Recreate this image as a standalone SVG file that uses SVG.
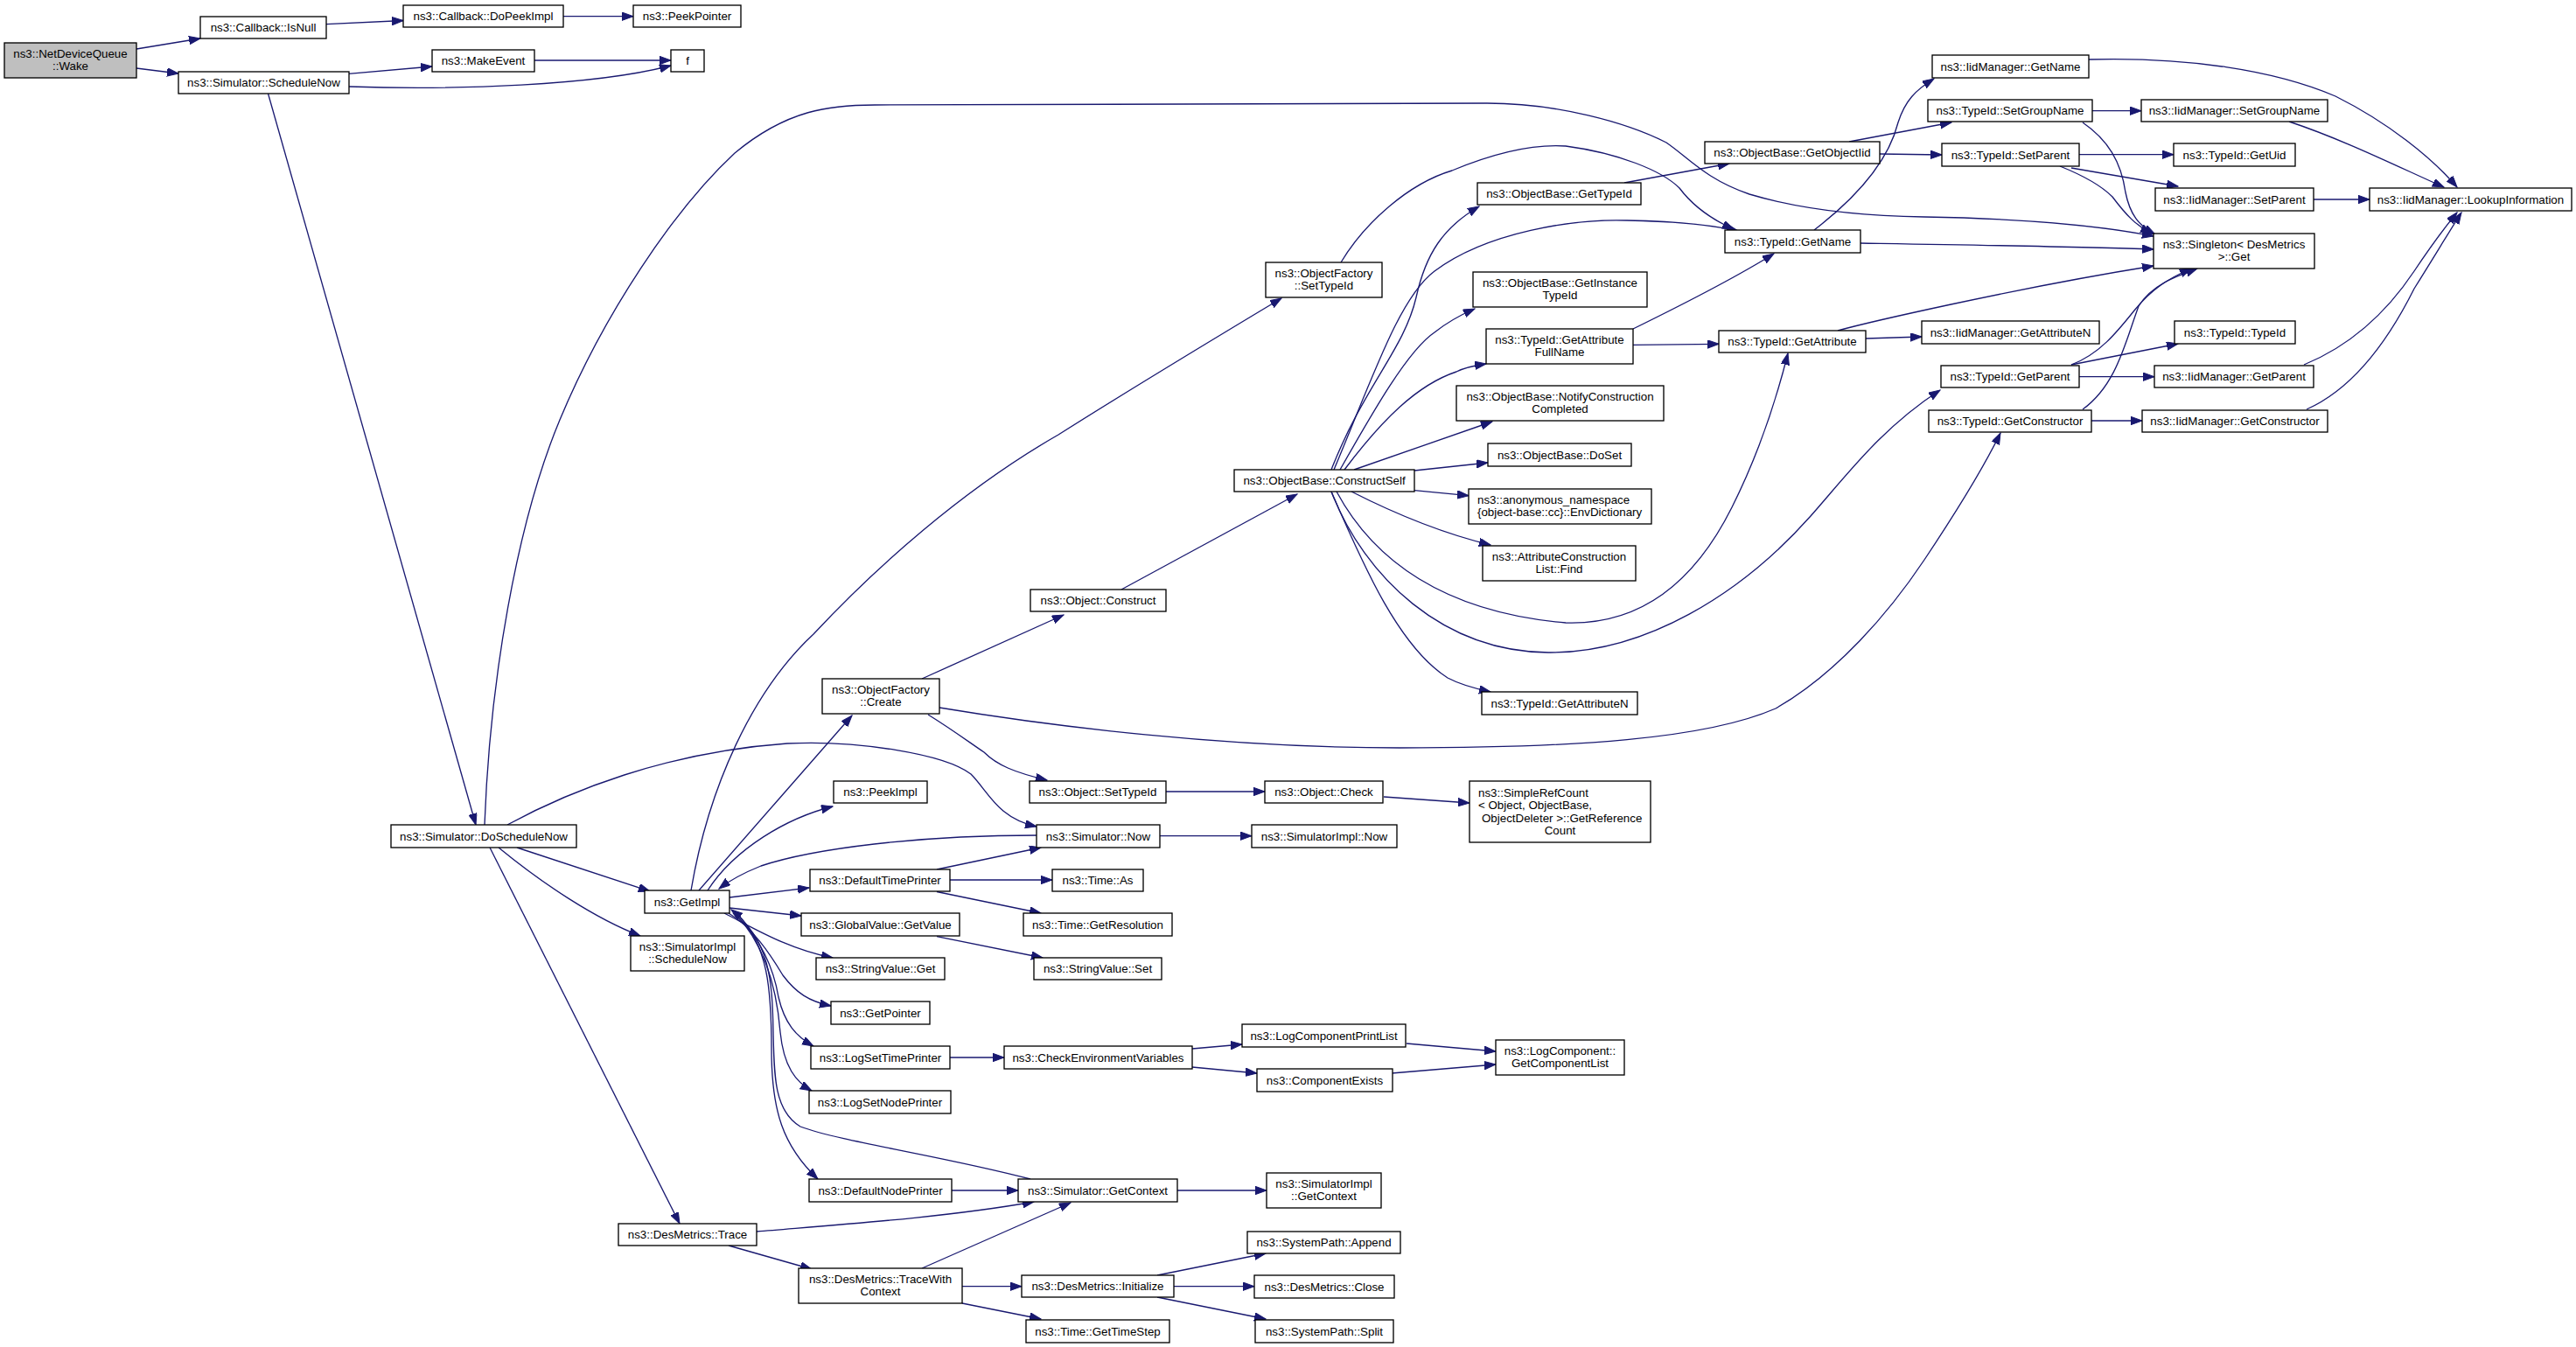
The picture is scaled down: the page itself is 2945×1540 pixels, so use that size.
<svg xmlns="http://www.w3.org/2000/svg" width="2945" height="1540" viewBox="0 0 2945 1540">
<style>
.node rect{fill:#fff;stroke:#000;stroke-width:1.33}
.node text{font-family:"Liberation Sans",Arial,sans-serif;font-size:13.33px;fill:#000;text-anchor:middle}
.node text.l{text-anchor:start}
#wake rect{fill:#bfbfbf}
.edges path{fill:none;stroke:#191970;stroke-width:1.33;marker-end:url(#arr)}
</style>
<defs>
<marker id="arr" markerUnits="userSpaceOnUse" markerWidth="14" markerHeight="10" refX="13" refY="4.7" orient="auto" viewBox="0 0 14 10">
<path d="M0,0 L13,4.7 L0,9.4 z" fill="#191970" stroke="#191970" stroke-width="1"/>
</marker>
</defs>
<rect width="2945" height="1540" fill="#fff"/>
<g class="edges">
<path d="M156,56 L229,44"/>
<path d="M156,78 L204,84"/>
<path d="M373,27.7 L461,23.5"/>
<path d="M644,18.7 L724,18.7"/>
<path d="M398.5,84.3 L494,76"/>
<path d="M611,69 L767,69"/>
<path d="M399,99 C520,103 680,98 767,75"/>
<path d="M306.5,107 L544,943"/>
<path d="M554,943 C560,780 590,600 640,480 C690,360 770,240 840,175 C900,125 950,120 1000,120 L1700,118 C1780,118 1860,140 1905,163 C1930,180 1950,205 2000,222 C2060,240 2130,247 2200,248 C2320,250 2400,258 2462,270"/>
<path d="M591,969 L743,1019"/>
<path d="M570,969 C620,1010 680,1050 732,1070"/>
<path d="M560,969 L777,1399"/>
<path d="M580,943 C650,905 760,860 900,850 C980,846 1080,862 1110,885 C1130,905 1140,935 1185,945"/>
<path d="M790,1018 C810,900 860,790 930,725 C1000,650 1100,560 1210,497 C1300,440 1400,380 1465,341"/>
<path d="M799,1018 L974,818"/>
<path d="M809,1018 C840,970 900,935 952,922"/>
<path d="M1185,955 C1050,955 930,970 870,990 C850,998 835,1006 822,1016"/>
<path d="M1071,994 L1190,969"/>
<path d="M834,1026 L925,1015"/>
<path d="M1086,1006 L1203,1006"/>
<path d="M1071,1019.5 L1190,1044"/>
<path d="M834,1038 L916,1047"/>
<path d="M1071,1070.6 L1192,1095"/>
<path d="M828,1044 C860,1060 900,1085 952,1095"/>
<path d="M833,1044 C860,1060 880,1090 895,1115 C910,1135 925,1145 950,1150"/>
<path d="M838,1044 C870,1070 885,1110 890,1140 C897,1170 910,1185 930,1196"/>
<path d="M840,1044 C875,1080 888,1130 892,1180 C896,1220 910,1237 928,1247"/>
<path d="M1178,1348 C1080,1322 960,1305 915,1288 C885,1270 885,1230 884,1180 C883,1120 880,1075 836,1040"/>
<path d="M842,1044 C878,1080 882,1130 882,1200 C882,1270 895,1310 935,1348"/>
<path d="M1086,1209 L1148,1209"/>
<path d="M1363,1199 L1420,1194"/>
<path d="M1363,1220 L1437,1227"/>
<path d="M1608,1193 L1710,1202"/>
<path d="M1591,1227 L1710,1217"/>
<path d="M1088,1361 L1164,1361"/>
<path d="M1346,1361 L1448,1361"/>
<path d="M865,1408 C960,1400 1080,1392 1182,1374"/>
<path d="M833,1424 L928,1451"/>
<path d="M1054,1450 L1224,1375"/>
<path d="M1100,1470.7 L1168,1470.7"/>
<path d="M1100,1490 L1190,1508"/>
<path d="M1323,1458 L1447,1433"/>
<path d="M1342,1470.7 L1434,1470.7"/>
<path d="M1323,1483 L1447,1508"/>
<path d="M1054,776 L1216,703"/>
<path d="M1061,817 C1090,835 1110,850 1125,860 C1140,875 1160,883 1197,892"/>
<path d="M1074,809 C1200,830 1400,855 1600,855 C1800,855 1950,845 2030,810 C2100,770 2160,700 2200,640 C2240,580 2270,530 2287,495"/>
<path d="M1282,674 L1483,565"/>
<path d="M1333,905 L1446,905"/>
<path d="M1582,911 L1680,918"/>
<path d="M1326,955.7 L1431,955.7"/>
<path d="M1522,537 C1560,440 1605,400 1619,340 C1630,290 1650,260 1691,236"/>
<path d="M1525,537 C1570,430 1600,340 1640,310 C1700,265 1800,250 1860,252 C1920,253 1960,258 1987,264"/>
<path d="M1533,300 C1560,255 1610,210 1660,195 C1720,170 1760,165 1790,167 C1850,175 1900,195 1920,215 C1935,235 1955,250 1982,262"/>
<path d="M1532,537 C1570,470 1610,400 1640,380 C1655,368 1670,360 1686,353"/>
<path d="M1537,537 C1580,480 1620,440 1665,425 C1675,420 1685,418 1699,416"/>
<path d="M1548,537 L1706,482"/>
<path d="M1617,538 L1701,529"/>
<path d="M1617,560.7 L1679,566.7"/>
<path d="M1545,562 C1600,590 1650,610 1704,623"/>
<path d="M1522,562 C1560,650 1600,740 1655,775 C1670,783 1690,788 1704,791"/>
<path d="M1528,562 C1570,640 1650,700 1790,712 C1880,715 1940,660 1980,580 C2010,520 2030,460 2044,404"/>
<path d="M1522,562 C1560,660 1650,745 1770,746 C1880,747 1990,680 2070,590 C2110,545 2150,490 2218,446"/>
<path d="M2127,278 C2250,280 2380,282 2462,285"/>
<path d="M2101,378 C2130,370 2300,330 2462,304"/>
<path d="M2381,140 C2410,160 2425,185 2430,220 C2435,245 2445,258 2464,268"/>
<path d="M2355,190 C2380,200 2400,210 2415,225 C2430,245 2442,258 2460,267"/>
<path d="M2368,417 C2400,405 2420,380 2440,355 C2460,330 2480,318 2505,307"/>
<path d="M2381,468 C2420,440 2430,390 2445,350 C2460,325 2490,315 2512,307"/>
<path d="M2074,263 C2130,220 2160,180 2170,140 C2178,115 2190,103 2211,90"/>
<path d="M2114,162 L2231,140"/>
<path d="M2149,176 L2220,177"/>
<path d="M1857,209 L1977,187"/>
<path d="M1867,376 C1920,350 1980,320 2028,290"/>
<path d="M1867,394.3 L1965,393.3"/>
<path d="M2133,387 L2197,385"/>
<path d="M2392,126.7 L2448,126.7"/>
<path d="M2377,176.7 L2485,176.7"/>
<path d="M2368,192 L2490,213"/>
<path d="M2645,228 L2709,228"/>
<path d="M2388,68 C2500,65 2600,80 2670,110 C2730,140 2780,180 2809,214"/>
<path d="M2617,139 C2680,160 2740,190 2794,214"/>
<path d="M2368,417 L2490,393"/>
<path d="M2377,430.7 L2463,430.7"/>
<path d="M2634,417 C2700,390 2740,340 2760,310 C2780,280 2795,260 2809,243"/>
<path d="M2391,481 L2449,481"/>
<path d="M2637,468 C2700,440 2740,370 2760,330 C2785,290 2800,265 2814,243"/>
</g>
<g id="wake" class="node"><rect x="5" y="49" width="151" height="40"/><text x="80.5" y="65.5">ns3::NetDeviceQueue</text><text x="80.5" y="80">::Wake</text></g>
<g id="isnull" class="node"><rect x="229" y="19" width="144" height="25"/><text x="301" y="36">ns3::Callback::IsNull</text></g>
<g id="schednow" class="node"><rect x="204" y="82" width="195" height="25"/><text x="301.5" y="99">ns3::Simulator::ScheduleNow</text></g>
<g id="doschednow" class="node"><rect x="447" y="943" width="212" height="26"/><text x="553" y="960.5">ns3::Simulator::DoScheduleNow</text></g>
<g id="dopeek" class="node"><rect x="461" y="6" width="183" height="25"/><text x="552.5" y="23">ns3::Callback::DoPeekImpl</text></g>
<g id="makeevent" class="node"><rect x="494" y="57" width="117" height="25"/><text x="552.5" y="74">ns3::MakeEvent</text></g>
<g id="getimpl" class="node"><rect x="737" y="1018" width="97" height="26"/><text x="785.5" y="1035.5">ns3::GetImpl</text></g>
<g id="simimplsched" class="node"><rect x="721" y="1070" width="130" height="40"/><text x="786" y="1086.5">ns3::SimulatorImpl</text><text x="786" y="1101">::ScheduleNow</text></g>
<g id="dmtrace" class="node"><rect x="707" y="1399" width="158" height="25"/><text x="786" y="1416">ns3::DesMetrics::Trace</text></g>
<g id="peekptr" class="node"><rect x="724" y="6" width="123" height="25"/><text x="785.5" y="23">ns3::PeekPointer</text></g>
<g id="f" class="node"><rect x="767" y="57" width="38" height="25"/><text x="786" y="74">f</text></g>
<g id="ofcreate" class="node"><rect x="940" y="776" width="134" height="40"/><text x="1007" y="792.5">ns3::ObjectFactory</text><text x="1007" y="807">::Create</text></g>
<g id="peekimpl" class="node"><rect x="953" y="893" width="107" height="25"/><text x="1006.5" y="910">ns3::PeekImpl</text></g>
<g id="deftp" class="node"><rect x="926" y="994" width="160" height="25"/><text x="1006" y="1011">ns3::DefaultTimePrinter</text></g>
<g id="gvget" class="node"><rect x="916" y="1044" width="181" height="26"/><text x="1006.5" y="1061.5">ns3::GlobalValue::GetValue</text></g>
<g id="svget" class="node"><rect x="933" y="1095" width="147" height="25"/><text x="1006.5" y="1112">ns3::StringValue::Get</text></g>
<g id="getptr" class="node"><rect x="950" y="1145" width="113" height="26"/><text x="1006.5" y="1162.5">ns3::GetPointer</text></g>
<g id="logstp" class="node"><rect x="927" y="1196" width="159" height="26"/><text x="1006.5" y="1213.5">ns3::LogSetTimePrinter</text></g>
<g id="logsnp" class="node"><rect x="925" y="1247" width="162" height="26"/><text x="1006" y="1264.5">ns3::LogSetNodePrinter</text></g>
<g id="defnp" class="node"><rect x="925" y="1348" width="163" height="26"/><text x="1006.5" y="1365.5">ns3::DefaultNodePrinter</text></g>
<g id="twc" class="node"><rect x="913" y="1450" width="187" height="40"/><text x="1006.5" y="1466.5">ns3::DesMetrics::TraceWith</text><text x="1006.5" y="1481">Context</text></g>
<g id="ofsettid" class="node"><rect x="1447" y="300" width="133" height="40"/><text x="1513.5" y="316.5">ns3::ObjectFactory</text><text x="1513.5" y="331">::SetTypeId</text></g>
<g id="objconstruct" class="node"><rect x="1178" y="674" width="155" height="25"/><text x="1255.5" y="691">ns3::Object::Construct</text></g>
<g id="objsettid" class="node"><rect x="1177" y="893" width="156" height="25"/><text x="1255" y="910">ns3::Object::SetTypeId</text></g>
<g id="simnow" class="node"><rect x="1185" y="943" width="141" height="26"/><text x="1255.5" y="960.5">ns3::Simulator::Now</text></g>
<g id="timeas" class="node"><rect x="1203" y="994" width="104" height="25"/><text x="1255" y="1011">ns3::Time::As</text></g>
<g id="timeres" class="node"><rect x="1170" y="1044" width="170" height="26"/><text x="1255" y="1061.5">ns3::Time::GetResolution</text></g>
<g id="svset" class="node"><rect x="1182" y="1095" width="146" height="25"/><text x="1255" y="1112">ns3::StringValue::Set</text></g>
<g id="checkenv" class="node"><rect x="1148" y="1196" width="215" height="26"/><text x="1255.5" y="1213.5">ns3::CheckEnvironmentVariables</text></g>
<g id="simgetctx" class="node"><rect x="1164" y="1348" width="182" height="26"/><text x="1255" y="1365.5">ns3::Simulator::GetContext</text></g>
<g id="dminit" class="node"><rect x="1168" y="1458" width="174" height="25"/><text x="1255" y="1475">ns3::DesMetrics::Initialize</text></g>
<g id="timestep" class="node"><rect x="1173" y="1509" width="164" height="26"/><text x="1255" y="1526.5">ns3::Time::GetTimeStep</text></g>
<g id="constructself" class="node"><rect x="1411" y="537" width="206" height="25"/><text x="1514" y="554">ns3::ObjectBase::ConstructSelf</text></g>
<g id="objcheck" class="node"><rect x="1446" y="893" width="135" height="25"/><text x="1513.5" y="910">ns3::Object::Check</text></g>
<g id="simimplnow" class="node"><rect x="1431" y="943" width="166" height="26"/><text x="1514" y="960.5">ns3::SimulatorImpl::Now</text></g>
<g id="logcpl" class="node"><rect x="1420" y="1171" width="187" height="26"/><text x="1513.5" y="1188.5">ns3::LogComponentPrintList</text></g>
<g id="compexists" class="node"><rect x="1437" y="1222" width="155" height="26"/><text x="1514.5" y="1239.5">ns3::ComponentExists</text></g>
<g id="simimplctx" class="node"><rect x="1448" y="1341" width="131" height="40"/><text x="1513.5" y="1357.5">ns3::SimulatorImpl</text><text x="1513.5" y="1372">::GetContext</text></g>
<g id="spappend" class="node"><rect x="1426" y="1408" width="175" height="25"/><text x="1513.5" y="1425">ns3::SystemPath::Append</text></g>
<g id="dmclose" class="node"><rect x="1434" y="1458" width="160" height="26"/><text x="1514" y="1475.5">ns3::DesMetrics::Close</text></g>
<g id="spsplit" class="node"><rect x="1435" y="1509" width="158" height="26"/><text x="1514" y="1526.5">ns3::SystemPath::Split</text></g>
<g id="obgettid" class="node"><rect x="1689" y="209" width="187" height="25"/><text x="1782.5" y="226">ns3::ObjectBase::GetTypeId</text></g>
<g id="obgetinst" class="node"><rect x="1684" y="311" width="199" height="40"/><text x="1783.5" y="327.5">ns3::ObjectBase::GetInstance</text><text x="1783.5" y="342">TypeId</text></g>
<g id="getattrfull" class="node"><rect x="1699" y="376" width="168" height="40"/><text x="1783" y="392.5">ns3::TypeId::GetAttribute</text><text x="1783" y="407">FullName</text></g>
<g id="notify" class="node"><rect x="1665" y="441" width="237" height="40"/><text x="1783.5" y="457.5">ns3::ObjectBase::NotifyConstruction</text><text x="1783.5" y="472">Completed</text></g>
<g id="doset" class="node"><rect x="1701" y="507" width="164" height="26"/><text x="1783" y="524.5">ns3::ObjectBase::DoSet</text></g>
<g id="envdict" class="node"><rect x="1679" y="559" width="209" height="40"/><text class="l" x="1689" y="575.5">ns3::anonymous_namespace</text><text class="l" x="1689" y="590">{object-base::cc}::EnvDictionary</text></g>
<g id="acfind" class="node"><rect x="1695" y="624" width="175" height="40"/><text x="1782.5" y="640.5">ns3::AttributeConstruction</text><text x="1782.5" y="655">List::Find</text></g>
<g id="getattrn" class="node"><rect x="1694" y="791" width="178" height="26"/><text x="1783" y="808.5">ns3::TypeId::GetAttributeN</text></g>
<g id="simplerc" class="node"><rect x="1680" y="893" width="207" height="70"/><text class="l" x="1690" y="910.5">ns3::SimpleRefCount</text><text class="l" x="1690" y="925">&lt; Object, ObjectBase,</text><text class="l" x="1694" y="939.5">ObjectDeleter &gt;::GetReference</text><text x="1783.5" y="954">Count</text></g>
<g id="logcomp" class="node"><rect x="1710" y="1189" width="147" height="40"/><text x="1783.5" y="1205.5">ns3::LogComponent::</text><text x="1783.5" y="1220">GetComponentList</text></g>
<g id="getobjiid" class="node"><rect x="1949" y="162" width="200" height="25"/><text x="2049" y="179">ns3::ObjectBase::GetObjectIid</text></g>
<g id="tidgetname" class="node"><rect x="1972" y="263" width="155" height="26"/><text x="2049.5" y="280.5">ns3::TypeId::GetName</text></g>
<g id="tidgetattr" class="node"><rect x="1965" y="378" width="168" height="25"/><text x="2049" y="395">ns3::TypeId::GetAttribute</text></g>
<g id="iidgetname" class="node"><rect x="2209" y="63" width="179" height="26"/><text x="2298.5" y="80.5">ns3::IidManager::GetName</text></g>
<g id="tidsetgroup" class="node"><rect x="2204" y="114" width="188" height="25"/><text x="2298" y="131">ns3::TypeId::SetGroupName</text></g>
<g id="tidsetparent" class="node"><rect x="2220" y="164" width="157" height="26"/><text x="2298.5" y="181.5">ns3::TypeId::SetParent</text></g>
<g id="iidgetattrn" class="node"><rect x="2197" y="367" width="203" height="26"/><text x="2298.5" y="384.5">ns3::IidManager::GetAttributeN</text></g>
<g id="tidgetparent" class="node"><rect x="2219" y="418" width="158" height="25"/><text x="2298" y="435">ns3::TypeId::GetParent</text></g>
<g id="tidgetctor" class="node"><rect x="2205" y="469" width="186" height="25"/><text x="2298" y="486">ns3::TypeId::GetConstructor</text></g>
<g id="iidsetgroup" class="node"><rect x="2448" y="114" width="213" height="25"/><text x="2554.5" y="131">ns3::IidManager::SetGroupName</text></g>
<g id="tidgetuid" class="node"><rect x="2485" y="164" width="139" height="26"/><text x="2554.5" y="181.5">ns3::TypeId::GetUid</text></g>
<g id="iidsetparent" class="node"><rect x="2464" y="215" width="181" height="26"/><text x="2554.5" y="232.5">ns3::IidManager::SetParent</text></g>
<g id="singleton" class="node"><rect x="2462" y="267" width="184" height="40"/><text x="2554" y="283.5">ns3::Singleton&lt; DesMetrics</text><text x="2554" y="298">&gt;::Get</text></g>
<g id="tidtypeid" class="node"><rect x="2486" y="367" width="138" height="26"/><text x="2555" y="384.5">ns3::TypeId::TypeId</text></g>
<g id="iidgetparent" class="node"><rect x="2463" y="418" width="182" height="25"/><text x="2554" y="435">ns3::IidManager::GetParent</text></g>
<g id="iidgetctor" class="node"><rect x="2449" y="469" width="212" height="25"/><text x="2555" y="486">ns3::IidManager::GetConstructor</text></g>
<g id="lookup" class="node"><rect x="2709" y="215" width="231" height="26"/><text x="2824.5" y="232.5">ns3::IidManager::LookupInformation</text></g>
</svg>
